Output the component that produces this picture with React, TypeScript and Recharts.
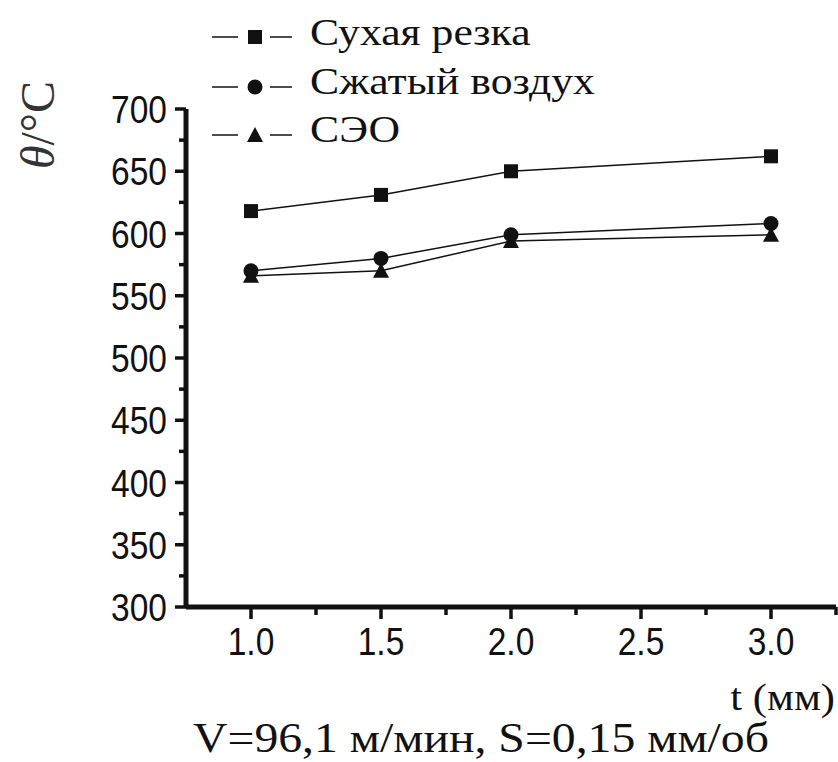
import { LineChart, Line, XAxis, YAxis, Legend } from 'recharts'

// depth of cut, mm
const depths = [1.0, 1.5, 2.0, 3.0]
// cutting temperature, °C
const dryCut = [618, 631, 650, 662]
const compressedAir = [570, 580, 599, 608]
const seo = [566, 570, 594, 599]

const seriesNames = ['Сухая резка', 'Сжатый воздух', 'СЭО']
const xTicks = [0.75, 1.0, 1.25, 1.5, 1.75, 2.0, 2.25, 2.5, 2.75, 3.0, 3.25]
const yTicks = [300, 325, 350, 375, 400, 425, 450, 475, 500, 525, 550, 575, 600, 625, 650, 675, 700]

const rows = depths.map((t, i) => ({ t, dry: dryCut[i], air: compressedAir[i], seo: seo[i] }))

const INK = '#111'
const SERIF = '"Liberation Serif", "Times New Roman", serif'
const SANS = '"Liberation Sans", Arial, sans-serif'

type Shape = 'square' | 'circle' | 'triangle'
const shapes: Shape[] = ['square', 'circle', 'triangle']

const Marker = ({ cx, cy, shape, size }: { cx: number; cy: number; shape: Shape; size: number }) => {
  const h = size / 2
  if (shape === 'square') return <rect x={cx - h} y={cy - h} width={size} height={size} fill={INK} />
  if (shape === 'circle') return <circle cx={cx} cy={cy} r={h + 0.5} fill={INK} />
  return <polygon points={`${cx},${cy - h - 1} ${cx - h - 1},${cy + h} ${cx + h + 1},${cy + h}`} fill={INK} />
}

const dotFor = (shape: Shape) => (props: any) => {
  const { cx, cy, index } = props
  if (cx == null || cy == null) return <g key={`${shape}-${index}`} />
  return <Marker key={`${shape}-${index}`} cx={cx} cy={cy} shape={shape} size={14} />
}

const YTick = (props: any) => {
  const { x, y, payload } = props
  const major = payload.value % 50 === 0
  return (
    <g>
      <line x1={x - (major ? 11 : 7)} x2={x} y1={y} y2={y} stroke={INK} strokeWidth={3.5} />
      {major && (
        <text
          transform={`translate(${x - 19},${y + 14}) scale(0.86,1)`}
          textAnchor="end"
          fontFamily={SANS}
          fontSize={39}
          fill={INK}
        >
          {payload.value}
        </text>
      )}
    </g>
  )
}

const XTick = (props: any) => {
  const { x, y, payload } = props
  const v = payload.value
  if (v === 0.75) return <g />
  const major = Math.abs(v * 2 - Math.round(v * 2)) < 1e-6
  return (
    <g>
      <line x1={x} x2={x} y1={y} y2={y + (major ? 12 : 8)} stroke={INK} strokeWidth={3.5} />
      {major && (
        <text
          transform={`translate(${x},${y + 48}) scale(0.86,1)`}
          textAnchor="middle"
          fontFamily={SANS}
          fontSize={39}
          fill={INK}
        >
          {v.toFixed(1)}
        </text>
      )}
    </g>
  )
}

const LegendBox = () => {
  const symY = [37, 87, 135]
  const baseY = [45, 94, 142]
  return (
    <svg width={838} height={160} style={{ display: 'block' }}>
      {seriesNames.map((name, i) => (
        <g key={name}>
          <line x1={212} x2={238} y1={symY[i]} y2={symY[i]} stroke={INK} strokeWidth={1.5} />
          <line x1={270} x2={292} y1={symY[i]} y2={symY[i]} stroke={INK} strokeWidth={1.5} />
          <Marker cx={255} cy={symY[i]} shape={shapes[i]} size={14} />
          <text
            transform={`translate(310,${baseY[i]}) scale(1.15,1)`}
            fontFamily={SERIF}
            fontSize={38}
            fill={INK}
          >
            {name}
          </text>
        </g>
      ))}
    </svg>
  )
}

export default function App() {
  return (
    <div style={{ width: 838, height: 762, position: 'relative', background: '#fff' }}>
      <style>{'body{margin:0;}'}</style>
      <LineChart width={838} height={762} data={rows} margin={{ top: 109, right: 2, bottom: 0, left: 0 }}>
        <XAxis
          dataKey="t"
          type="number"
          domain={[0.75, 3.25]}
          ticks={xTicks}
          interval={0}
          height={155}
          tickLine={false}
          tickSize={0}
          tickMargin={0}
          tick={<XTick />}
          stroke={INK}
          strokeWidth={5}
          axisLine={{ stroke: INK, strokeWidth: 5 }}
        />
        <YAxis
          type="number"
          domain={[300, 700]}
          ticks={yTicks}
          interval={0}
          width={186}
          tickLine={false}
          tickSize={0}
          tickMargin={0}
          tick={<YTick />}
          stroke={INK}
          strokeWidth={5}
          axisLine={{ stroke: INK, strokeWidth: 5 }}
        />
        <Legend
          layout="horizontal"
          verticalAlign="middle"
          align="center"
          wrapperStyle={{ position: 'absolute', top: 0, left: 0, width: 838, height: 160 }}
          content={<LegendBox />}
        />
        <Line name={seriesNames[0]} dataKey="dry" type="linear" stroke={INK} strokeWidth={1.5} dot={dotFor('square')} activeDot={false} isAnimationActive={false} />
        <Line name={seriesNames[1]} dataKey="air" type="linear" stroke={INK} strokeWidth={1.5} dot={dotFor('circle')} activeDot={false} isAnimationActive={false} />
        <Line name={seriesNames[2]} dataKey="seo" type="linear" stroke={INK} strokeWidth={1.5} dot={dotFor('triangle')} activeDot={false} isAnimationActive={false} />
      </LineChart>
      <svg width={838} height={762} style={{ position: 'absolute', top: 0, left: 0, pointerEvents: 'none' }}>
        <text transform="translate(54,125) rotate(-90)" textAnchor="middle" fontFamily={SERIF} fontSize={48} fill="#333">
          <tspan fontStyle="italic">θ</tspan>/°C
        </text>
        <text transform="translate(835,710) scale(1.12,1)" textAnchor="end" fontFamily={SERIF} fontSize={38} fill={INK}>
          t (мм)
        </text>
        <text transform="translate(481,752) scale(1.11,1)" textAnchor="middle" fontFamily={SERIF} fontSize={43} fill={INK}>
          V=96,1 м/мин, S=0,15 мм/об
        </text>
      </svg>
    </div>
  )
}
